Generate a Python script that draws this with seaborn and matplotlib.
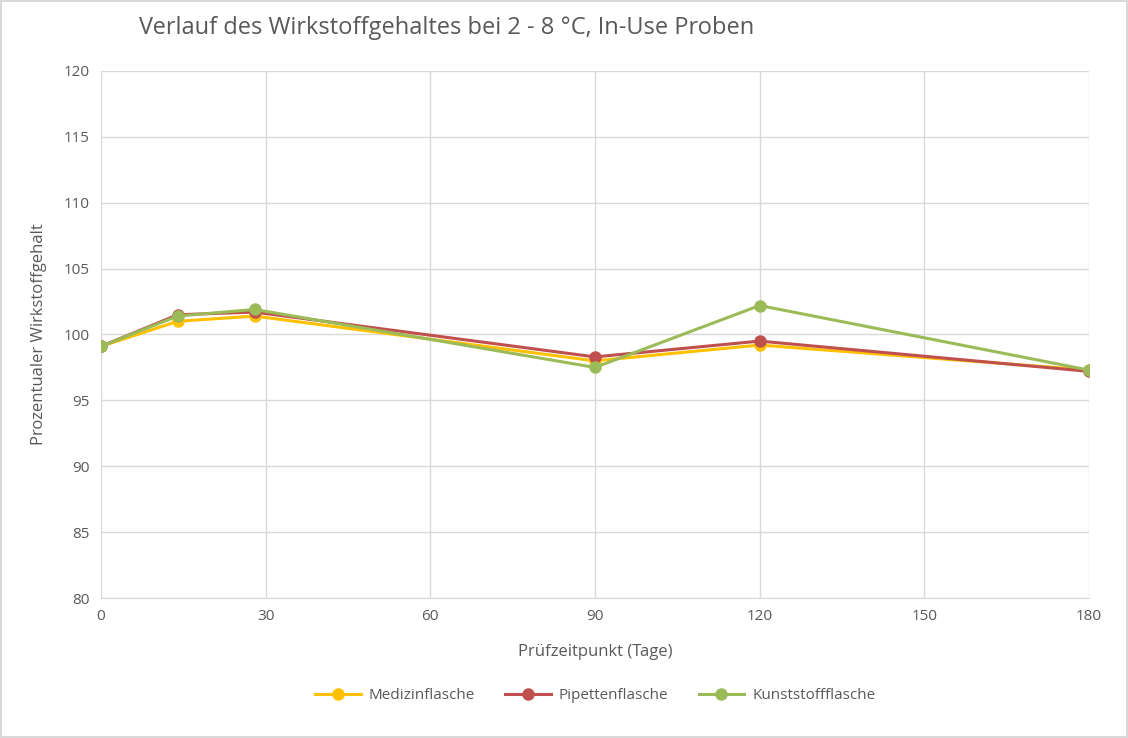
import matplotlib.pyplot as plt
import pandas as pd
import seaborn as sns

days = [0, 14, 28, 90, 120, 180]
medizin = [99.1, 101.0, 101.4, 98.0, 99.2, 97.3]
pipetten = [99.1, 101.5, 101.7, 98.3, 99.5, 97.2]
kunststoff = [99.1, 101.4, 101.9, 97.5, 102.2, 97.3]
names = ["Medizinflasche", "Pipettenflasche", "Kunststoffflasche"]
colors = ["#FFC000", "#C0504D", "#9BBB59"]

df = pd.concat([
    pd.DataFrame({"Tage": days, "Wert": vals, "Serie": name})
    for name, vals in zip(names, [medizin, pipetten, kunststoff])
])

plt.rcParams["font.family"] = "Open Sans"
fig = plt.figure(figsize=(11.28, 7.38), dpi=100)
fig.patch.set_edgecolor("#D9D9D9")
fig.patch.set_linewidth(1.5)
ax = fig.add_axes([0.0895, 0.1897, 0.8759, 0.7141])

sns.lineplot(data=df, x="Tage", y="Wert", hue="Serie", palette=colors,
             marker="o", markersize=9, markeredgewidth=0, linewidth=2.2, ax=ax)

ax.set_xlim(0, 180)
ax.set_ylim(80, 120)
ax.set_xticks(range(0, 181, 30))
ax.set_yticks(range(80, 121, 5))
ax.grid(True, color="#D9D9D9", linewidth=1)
ax.set_axisbelow(True)
for side in ["top", "right", "left"]:
    ax.spines[side].set_visible(False)
ax.spines["bottom"].set_color("#D9D9D9")
ax.tick_params(length=0, labelsize=11, labelcolor="#595959", pad=8)
ax.set_xlabel("Prüfzeitpunkt (Tage)", fontsize=12, color="#595959", labelpad=14)
ax.set_ylabel("Prozentualer Wirkstoffgehalt", fontsize=12, color="#595959", labelpad=12)
fig.text(0.123, 0.962, "Verlauf des Wirkstoffgehaltes bei 2 - 8 °C, In-Use Proben",
         fontsize=17, color="#595959", va="center")

ax.legend(loc="upper center", bbox_to_anchor=(0.5, -0.145), ncol=3, frameon=False,
          fontsize=11, labelcolor="#595959", handlelength=3.0, columnspacing=2.0,
          handletextpad=0.5)

fig.savefig("out.png", dpi=100)
